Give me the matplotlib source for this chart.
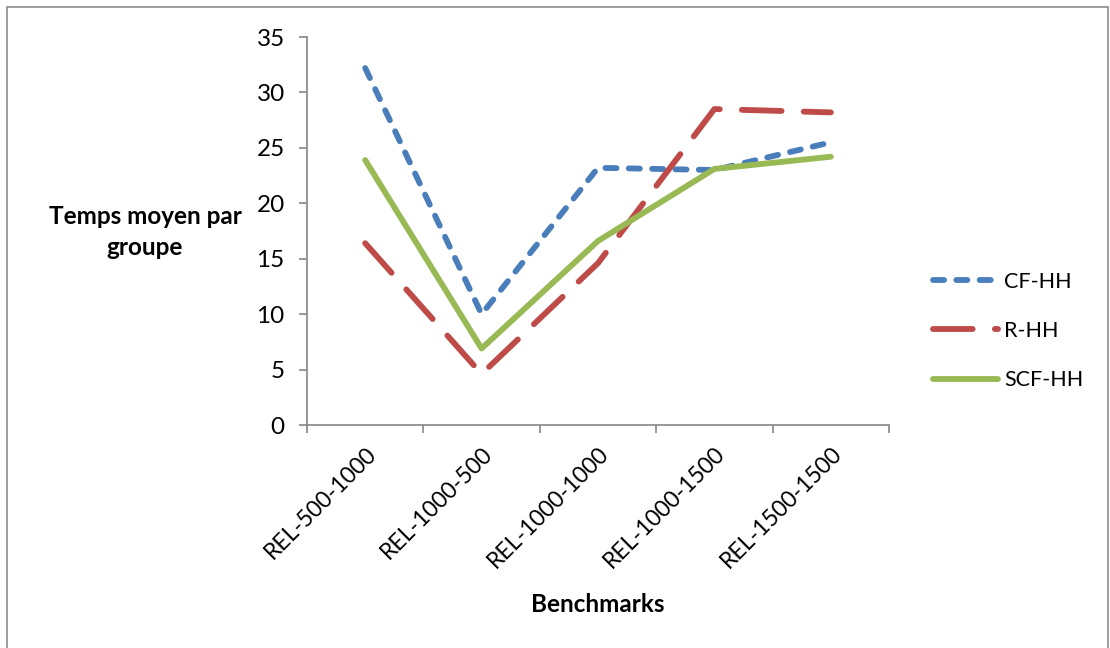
import matplotlib.pyplot as plt
from matplotlib.patches import Rectangle
from matplotlib.lines import Line2D

benchmarks = ["REL-500-1000", "REL-1000-500", "REL-1000-1000", "REL-1000-1500", "REL-1500-1500"]
cf_hh = [32.2, 10.0, 23.2, 23.0, 25.5]
r_hh = [16.4, 4.6, 14.6, 28.5, 28.2]
scf_hh = [23.9, 6.9, 16.6, 23.1, 24.2]

plt.rcParams['font.family'] = ['Lato', 'DejaVu Sans']

fig = plt.figure(figsize=(11.1, 6.48), dpi=100)
ax = fig.add_axes([307 / 1110, 1 - 425 / 648, (889 - 307) / 1110, (425 - 37) / 648])

# frame around the whole chart
fig.patches.append(Rectangle((7 / 1110, -0.01), 1101 / 1110, 1 - 7 / 648 + 0.01,
                             transform=fig.transFigure, fill=False,
                             edgecolor='#8c8c8c', linewidth=1.2))

x = [i + 0.5 for i in range(len(benchmarks))]
lw = 4.2
cf_dash = (1.9, 2.1)
r_dash = (6.8, 3.8)
ax.plot(x, cf_hh, color='#4A7EBB', linewidth=lw, dashes=cf_dash,
        dash_capstyle='round', solid_capstyle='round')
ax.plot(x, r_hh, color='#BE4B48', linewidth=lw, dashes=r_dash,
        dash_capstyle='round', solid_capstyle='round')
ax.plot(x, scf_hh, color='#98B954', linewidth=lw, solid_capstyle='round')

ax.set_xlim(0, len(benchmarks))
ax.set_ylim(0, 35)
ax.set_yticks(range(0, 36, 5))
ax.set_xticks(range(len(benchmarks) + 1))
ax.set_xticklabels([])
ax.set_xticks(x, minor=True)
ax.set_xticklabels(benchmarks, minor=True, rotation=45, ha='right',
                   rotation_mode='anchor', fontsize=16.5)
ax.tick_params(axis='x', which='minor', length=0, pad=13)
ax.tick_params(axis='x', which='major', length=6, color='#868686', width=1.2)
ax.tick_params(axis='y', length=6, color='#868686', width=1.2, labelsize=17.5, pad=10)

for s in ['top', 'right']:
    ax.spines[s].set_visible(False)
for s in ['left', 'bottom']:
    ax.spines[s].set_color('#868686')
    ax.spines[s].set_linewidth(1.2)

fig.text(145 / 1110, 1 - 232 / 648, "Temps moyen par\ngroupe", ha='center', va='center',
         fontsize=17.5, fontweight='bold', linespacing=1.45)
fig.text(598 / 1110, 1 - 604 / 648, "Benchmarks", ha='center', va='center',
         fontsize=17.5, fontweight='bold')

handles = [
    Line2D([], [], color='#4A7EBB', linewidth=lw, dashes=cf_dash, dash_capstyle='round'),
    Line2D([], [], color='#BE4B48', linewidth=lw, dashes=r_dash, dash_capstyle='round'),
    Line2D([], [], color='#98B954', linewidth=lw, solid_capstyle='round'),
]
fig.legend(handles, ["CF-HH", "R-HH", "SCF-HH"], loc='center left',
           bbox_to_anchor=(914 / 1110, 1 - 331 / 648), frameon=False,
           fontsize=15.5, handlelength=3.0, labelspacing=1.35, handletextpad=0.3)

fig.savefig("out.png", dpi=100)
